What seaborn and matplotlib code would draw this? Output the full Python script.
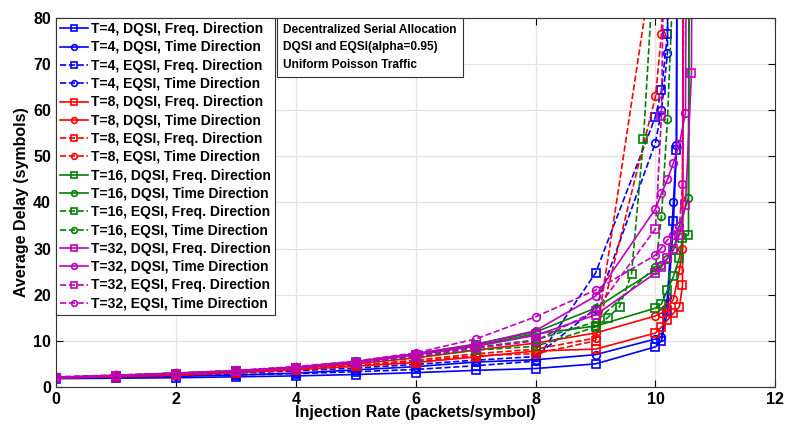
import pandas as pd
import matplotlib
matplotlib.use("Agg")
import matplotlib.pyplot as plt
import seaborn as sns

# x grid shared by the low-load part of every curve
x_low = [0, 1, 2, 3, 4, 5, 6, 7, 8]

labels = [
    "T=4, DQSI, Freq. Direction", "T=4, DQSI, Time Direction",
    "T=4, EQSI, Freq. Direction", "T=4, EQSI, Time Direction",
    "T=8, DQSI, Freq. Direction", "T=8, DQSI, Time Direction",
    "T=8, EQSI, Freq. Direction", "T=8, EQSI, Time Direction",
    "T=16, DQSI, Freq. Direction", "T=16, DQSI, Time Direction",
    "T=16, EQSI, Freq. Direction", "T=16, EQSI, Time Direction",
    "T=32, DQSI, Freq. Direction", "T=32, DQSI, Time Direction",
    "T=32, EQSI, Freq. Direction", "T=32, EQSI, Time Direction",
]

# delay for x = 0..8
y_low = [
    [1.8, 1.9, 2.0, 2.2, 2.4, 2.7, 3.1, 3.6, 4.0],
    [1.9, 2.1, 2.3, 2.6, 3.0, 3.7, 4.4, 5.4, 5.9],
    [1.9, 2.2, 2.5, 2.6, 2.9, 3.3, 3.8, 4.6, 5.6],
    [2.0, 2.3, 2.7, 3.0, 3.5, 4.1, 4.9, 5.8, 6.6],
    [1.9, 2.2, 2.5, 3.1, 3.7, 4.5, 5.3, 6.5, 7.8],
    [2.0, 2.4, 2.8, 3.3, 4.0, 5.0, 6.3, 8.0, 9.5],
    [1.9, 2.3, 2.6, 3.2, 3.8, 4.6, 5.5, 6.8, 7.2],
    [2.0, 2.3, 2.7, 3.2, 3.9, 4.7, 5.8, 7.2, 8.2],
    [2.0, 2.4, 2.9, 3.4, 4.2, 5.4, 7.0, 9.0, 11.5],
    [2.1, 2.5, 3.0, 3.5, 4.3, 5.5, 7.2, 9.3, 11.9],
    [2.0, 2.4, 2.9, 3.4, 4.2, 5.2, 6.4, 8.0, 8.8],
    [2.1, 2.5, 3.0, 3.5, 4.3, 5.4, 6.8, 8.6, 10.2],
    [2.0, 2.4, 2.9, 3.4, 4.2, 5.3, 7.0, 8.8, 11.2],
    [2.1, 2.5, 3.0, 3.5, 4.3, 5.5, 7.2, 9.2, 12.2],
    [2.0, 2.4, 2.9, 3.4, 4.1, 5.2, 6.6, 8.4, 10.0],
    [2.2, 2.6, 3.0, 3.6, 4.4, 5.6, 7.4, 10.4, 15.2],
]

# high-load part (x >= 9), points past 80 run off the top
x_high = [
    [9, 10, 10.1, 10.2, 10.3, 10.35, 10.4],
    [9, 10, 10.1, 10.2, 10.3, 10.35, 10.4],
    [9, 10, 10.1, 10.2, 10.3],
    [9, 10, 10.1, 10.2, 10.3],
    [9, 10, 10.1, 10.2, 10.3, 10.4, 10.45, 10.5],
    [9, 10, 10.1, 10.2, 10.3, 10.4, 10.45, 10.5],
    [9, 10],
    [9, 10, 10.1, 10.2],
    [9, 10, 10.1, 10.2, 10.3, 10.4, 10.45, 10.55, 10.6],
    [9, 10, 10.1, 10.2, 10.3, 10.4, 10.55, 10.6],
    [9, 9.2, 9.4, 9.6, 9.8, 10],
    [9, 10, 10.1, 10.2, 10.3],
    [9, 10, 10.1, 10.2, 10.3, 10.4, 10.5, 10.6, 10.65],
    [9, 10, 10.1, 10.2, 10.3, 10.4, 10.5, 10.6],
    [9, 10, 10.1, 10.2],
    [9, 10, 10.1, 10.2, 10.3, 10.4, 10.45, 10.5],
]
y_high = [
    [5.0, 8.7, 10.0, 16.5, 36.0, 51.4, 300],
    [7.0, 10.4, 10.8, 19.5, 40.0, 52.5, 300],
    [24.7, 58.6, 64.4, 76.6, 300],
    [17.0, 53.0, 60.0, 72.4, 300],
    [8.2, 11.7, 13.0, 14.5, 16.0, 17.4, 22.0, 300],
    [11.7, 15.4, 16.0, 17.3, 19.0, 25.4, 30.0, 300],
    [10.0, 96],
    [10.6, 63.0, 76.5, 150],
    [13.2, 17.1, 18.0, 21.0, 24.0, 28.0, 32.3, 33.0, 300],
    [17.1, 25.4, 26.5, 27.8, 29.7, 35.0, 41.0, 300],
    [13.0, 15.0, 17.4, 24.5, 53.8, 98],
    [14.1, 26.0, 37.0, 58.0, 90],
    [15.6, 24.7, 26.0, 28.0, 30.0, 33.0, 39.5, 68.0, 300],
    [19.7, 38.6, 42.0, 45.0, 48.6, 52.7, 59.4, 300],
    [16.5, 34.3, 58.8, 150],
    [21.0, 28.6, 30.2, 31.9, 33.0, 35.0, 44.0, 150],
]

group_colors = ["#0000ff", "#ff0000", "#008000", "#c000c0"]
series_markers = ["s", "o", "s", "o"]
series_dashed = [False, False, True, True]

plt.rcParams["font.family"] = ["Liberation Sans", "DejaVu Sans"]
plt.rcParams["font.weight"] = "bold"

fig, ax = plt.subplots(figsize=(7.88, 4.29), dpi=100)
fig.subplots_adjust(left=0.071, right=0.984, top=0.958, bottom=0.098)

for i, name in enumerate(labels):
    color = group_colors[i // 4]
    df = pd.DataFrame({"x": x_low + x_high[i], "y": y_low[i] + y_high[i]})
    sns.lineplot(
        data=df, x="x", y="y", ax=ax, sort=False, estimator=None,
        color=color, marker=series_markers[i % 4], markersize=5.5,
        markerfacecolor="none", markeredgecolor=color, markeredgewidth=1.2,
        linewidth=1.2, linestyle="--" if series_dashed[i % 4] else "-",
        label=name,
    )

ax.set_xlim(0, 12)
ax.set_ylim(0, 80)
ax.set_xticks([0, 2, 4, 6, 8, 10, 12])
ax.set_yticks([0, 10, 20, 30, 40, 50, 60, 70, 80])
ax.grid(True, color="#e3e3e3", linewidth=0.9)
ax.set_axisbelow(True)
ax.tick_params(direction="in", length=5, top=True, right=True,
               labelsize=11.5, width=0.8)
for lab in ax.get_xticklabels() + ax.get_yticklabels():
    lab.set_fontweight("bold")
for s in ax.spines.values():
    s.set_color("#333333")
    s.set_linewidth(0.8)

ax.set_xlabel("Injection Rate (packets/symbol)", fontsize=11.5,
              fontweight="bold", labelpad=-1)
ax.set_ylabel("Average Delay (symbols)", fontsize=11.5, fontweight="bold",
              labelpad=3)

leg = ax.legend(loc="upper left", borderaxespad=0, fontsize=10.0,
                handlelength=2.0, handletextpad=0.2, labelspacing=0.31,
                borderpad=0.3, markerscale=0.75, fancybox=False,
                framealpha=1)
leg.get_frame().set_edgecolor("#333333")
leg.get_frame().set_linewidth(0.8)

ax.text(0.316, 0.985,
        "Decentralized Serial Allocation\nDQSI and EQSI(alpha=0.95)\nUniform Poisson Traffic",
        transform=ax.transAxes, ha="left", va="top", fontsize=8.6,
        fontweight="bold", linespacing=1.65,
        bbox=dict(boxstyle="square,pad=0.5", facecolor="white",
                  edgecolor="#333333", linewidth=0.8))

fig.savefig("out.png", dpi=100)
